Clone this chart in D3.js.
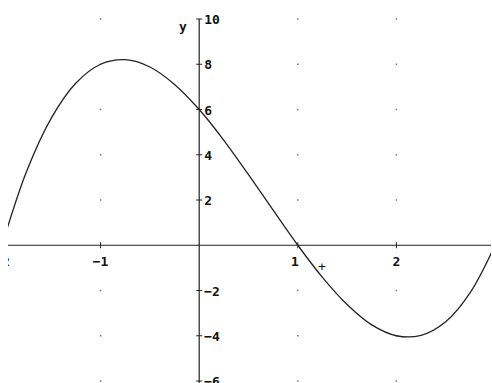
<!DOCTYPE html>
<html>
<head>
<meta charset="utf-8">
<script src="https://cdn.jsdelivr.net/npm/d3@7"></script>
<style>
body { margin: 0; background: #fff; }
svg { display: block; }
text { font-family: "DejaVu Sans Mono", "Liberation Mono", monospace; font-weight: bold; font-size: 13px; fill: #111; }
</style>
</head>
<body>
<script>
// values
var xs = [-2, -1.75, -1.5, -1.25, -1, -0.75, -0.5, -0.25, 0, 0.25, 0.5, 0.75, 1, 1.25, 1.5, 1.75, 2, 2.25, 2.5, 2.75, 3];
var ys = [0, 3.27, 5.62, 7.17, 8, 8.2, 7.88, 7.11, 6, 4.64, 3.12, 1.55, 0, -1.42, -2.62, -3.52, -4, -3.98, -3.38, -2.08, 0];
var xTicks = [-2, -1, 1, 2, 3];
var yTicks = [-6, -4, -2, 2, 4, 6, 8, 10];

var W = 492, H = 383;
var left = 8, right = 491;
var x = d3.scaleLinear().domain([-2, 3]).range([2, 495]);
var y = d3.scaleLinear().domain([-6, 10]).range([381, 19]);

var svg = d3.select("body").append("svg")
	.attr("width", W)
	.attr("height", H);

svg.append("clipPath").attr("id", "plot")
	.append("rect")
	.attr("x", left).attr("y", 0)
	.attr("width", right - left).attr("height", H);

var plot = svg.append("g").attr("clip-path", "url(#plot)");

// grid dots
var dots = [];
xTicks.forEach(function(a) { yTicks.forEach(function(b) { dots.push([a, b]); }); });
plot.append("g").selectAll("rect")
	.data(dots)
	.enter().append("rect")
	.attr("x", function(d) { return x(d[0]) - 0.75; })
	.attr("y", function(d) { return y(d[1]) - 0.75; })
	.attr("width", 1.5)
	.attr("height", 1.5)
	.attr("fill", "#777");

// axes
plot.append("line")
	.attr("x1", left).attr("x2", right)
	.attr("y1", y(0)).attr("y2", y(0))
	.attr("stroke", "#222").attr("stroke-width", 1.2);
plot.append("line")
	.attr("x1", x(0)).attr("x2", x(0))
	.attr("y1", y(10)).attr("y2", H)
	.attr("stroke", "#222").attr("stroke-width", 1.2);

plot.append("g").selectAll("line")
	.data(xTicks)
	.enter().append("line")
	.attr("x1", function(d) { return x(d); }).attr("x2", function(d) { return x(d); })
	.attr("y1", y(0) - 3).attr("y2", y(0) + 3)
	.attr("stroke", "#222");
plot.append("g").selectAll("line")
	.data(yTicks)
	.enter().append("line")
	.attr("x1", x(0) - 3).attr("x2", x(0) + 3)
	.attr("y1", function(d) { return y(d); }).attr("y2", function(d) { return y(d); })
	.attr("stroke", "#222");

var fmt = function(d) { return d < 0 ? "\u2212" + (-d) : "" + d; };

plot.append("g").selectAll("text")
	.data(xTicks)
	.enter().append("text")
	.attr("x", function(d) { return d == 1 ? x(d) - 3 : x(d); })
	.attr("y", y(0) + 21)
	.attr("text-anchor", "middle")
	.text(fmt);
plot.append("g").selectAll("text")
	.data(yTicks)
	.enter().append("text")
	.attr("x", x(0) + 5)
	.attr("y", function(d) { return y(d) + 5; })
	.text(fmt);

svg.append("text").attr("x", 179).attr("y", 31).text("y");
svg.append("text").attr("x", 318).attr("y", 271).style("font-weight", "normal").text("+");

// curve
var line = d3.line()
	.x(function(d) { return x(d[0]); })
	.y(function(d) { return y(d[1]); })
	.curve(d3.curveCatmullRom);
plot.append("path")
	.datum(d3.zip(xs, ys))
	.attr("d", line)
	.attr("fill", "none")
	.attr("stroke", "#222")
	.attr("stroke-width", 1.3);
</script>
</body>
</html>
